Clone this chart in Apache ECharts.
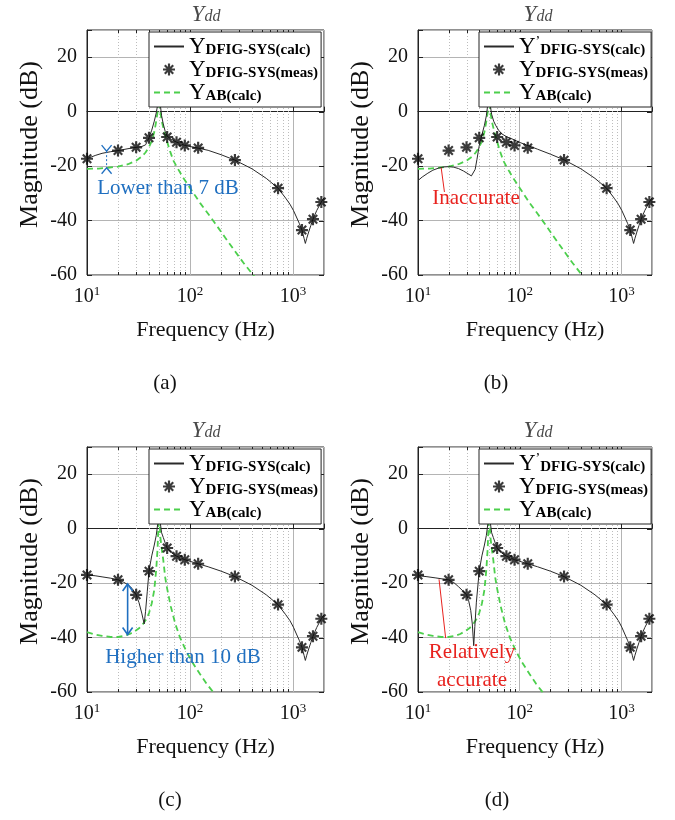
<!DOCTYPE html>
<html>
<head>
<meta charset="utf-8">
<script src="https://cdn.jsdelivr.net/npm/echarts@6/dist/echarts.min.js"></script>
<style>
  html, body { margin: 0; padding: 0; background: #fff; }
  #chart { width: 675px; height: 820px; }
</style>
</head>
<body>
<div id="chart"></div>
<script>
const SERIF = "'Liberation Serif', 'Times New Roman', serif";
const BLUE = '#1f6fc0';
const RED = '#e8231f';

// Measured admittance points: frequency (Hz) and magnitude (dB)
const measFreq = [10, 20, 30, 40, 60, 74, 89, 120, 273, 716, 1222, 1563, 1884];
const measTop = [-17.3, -14.3, -13.1, -9.6, -9.3, -11.2, -12.4, -13.3, -17.8, -28.1, -43.5, -39.5, -33.2];
const measBottom = [-17.0, -18.8, -24.3, -15.6, -7.1, -10.1, -11.4, -12.9, -17.6, -27.9, -43.6, -39.5, -33.1];

// Calculated DFIG-SYS admittance, [frequency, dB]
const calcA = [[10,-17.3],[12,-16.1],[14,-15.3],[17,-14.7],[20,-14.3],[25,-13.6],[30,-13.1],[34,-12.8],[37,-12.2],
  [40,-9.6],[42.5,-6.8],[45,-3.5],[47,-0.5],[48.5,2.5],[50,8],[51.5,2.5],[53,-1.5],[55,-4.5],[57.5,-7.3],[60,-9.0],
  [66,-10.2],[74,-11.2],[89,-12.4],[120,-13.4],[150,-14.2],[200,-15.8],[273,-17.8],[400,-21],[550,-24.5],[716,-28.1],
  [850,-31.8],[934,-34],[1010,-36.3],[1080,-38.7],[1150,-41],[1222,-43.5],[1280,-46.5],[1318,-48.4],[1360,-46.5],
  [1420,-44.2],[1490,-41.8],[1563,-39.5],[1700,-36.3],[1884,-33.2],[2000,-31.6]];
const calcB = [[10,-25.3],[11,-24],[12.5,-22.6],[14,-21.5],[16,-20.7],[18,-20.3],[20,-20.2],[22.5,-20.4],[25,-20.9],
  [28,-21.8],[31,-22.8],[33.5,-23.6],[35,-23.2],[36.5,-21.2],[38,-17.5],[40,-12.5],[42.5,-8.5],[45,-5],[47,-1.5],
  [48.5,2.5],[50,8],[51.5,2],[53,-1],[55.5,-3.5],[58,-5],[62,-6.8],[67,-8.2],[75,-9.3],[84,-10],[100,-11.3],[122,-12.5],
  [150,-13.8],[200,-15.6],[273,-17.7],[400,-21],[550,-24.5],[716,-28.1],[850,-31.8],[934,-34],[1010,-36.3],[1080,-38.7],
  [1150,-41],[1222,-43.5],[1280,-46.5],[1318,-48.4],[1360,-46.5],[1420,-44.2],[1490,-41.8],[1563,-39.5],[1700,-36.3],
  [1884,-33.2],[2000,-31.6]];
const calcC = [[10,-17],[12,-17.3],[14,-17.7],[17,-18.2],[20,-18.8],[22.5,-19.6],[25,-20.6],[27.5,-22],[30,-24.3],
  [32,-27.2],[34,-31],[35.9,-35],[37,-30.5],[38.5,-23],[40,-15.6],[42.5,-10],[45,-6],[47,-2.5],[48.5,1.5],[50,8],
  [51.5,2],[53,-1.5],[55,-3.2],[57.5,-5.3],[60,-7.1],[66,-8.8],[74,-10.1],[89,-11.4],[120,-12.9],[150,-14],[200,-15.6],
  [273,-17.6],[400,-20.8],[550,-24.3],[716,-27.9],[850,-31.6],[934,-33.8],[1010,-36.2],[1080,-38.7],[1150,-41],
  [1222,-43.6],[1280,-46.5],[1318,-48.4],[1360,-46.5],[1420,-44.2],[1490,-41.8],[1563,-39.5],[1700,-36.3],[1884,-33.1],
  [2000,-31.6]];
const calcD = [[10,-17.3],[12,-17.6],[15,-18.1],[20,-18.8],[22.5,-19.8],[25,-21.3],[27.5,-22.8],[30,-24.3],[31.5,-26.5],
  [33,-30],[34.2,-35],[35.3,-43],[36.2,-36],[37.5,-27],[39,-20],[40,-15.6],[42.5,-10],[45,-6],[47,-2.5],[48.5,1.5],
  [50,8],[51.5,2],[53,-1.5],[55,-3.2],[57.5,-5.3],[60,-7.1],[66,-8.8],[74,-10.1],[89,-11.4],[120,-12.9],[150,-14],
  [200,-15.6],[273,-17.6],[400,-20.8],[550,-24.3],[716,-27.9],[850,-31.6],[934,-33.8],[1010,-36.2],[1080,-38.7],
  [1150,-41],[1222,-43.6],[1280,-46.5],[1318,-48.4],[1360,-46.5],[1420,-44.2],[1490,-41.8],[1563,-39.5],[1700,-36.3],
  [1884,-33.1],[2000,-31.6]];

// Calculated AB admittance, [frequency, dB]
const abTop = [[10,-21],[13,-20.9],[16,-20.6],[20,-20.2],[25,-19.3],[30,-18],[34,-16.5],[37,-15],[40,-13],[42.5,-10.8],
  [45,-7.5],[47,-3.5],[48.5,0],[50,8],[51.5,0],[53,-3.3],[56,-7],[59.5,-10.6],[64,-14.5],[69,-18],[75,-20.5],[85,-24],
  [100,-28],[125,-33.5],[150,-37.5],[175,-41],[220,-46.3],[270,-51],[330,-55.5],[410,-60],[450,-62]];
const abBottom = [[10,-38],[12,-38.9],[14,-39.4],[17,-39.8],[20,-39.8],[23,-39.4],[26,-38.7],[29,-37.7],[32,-36.6],
  [35,-35],[38,-33],[40,-31],[42.5,-27.5],[45,-22.5],[47,-15],[48.5,-7],[50,8],[51.5,-3],[53,-7],[55,-11.5],
  [57.5,-18],[60,-22],[65,-28.5],[72,-35],[80,-40],[92,-45],[105,-49],[125,-53.4],[145,-57],[170,-60.3],[185,-62]];

// Axis ticks
const xTickFreqs = [10, 100, 1000];
const yTickValues = [-60, -40, -20, 0, 20];
const minorFreqs = [20, 30, 40, 50, 60, 70, 80, 90, 200, 300, 400, 500, 600, 700, 800, 900];

// Annotations: [frequency, upper dB, lower dB] and leader lines
const gapA = [15.5, -14.5, -20.6];
const gapC = [24.8, -20.3, -38.9];
const leaderB = [[16.9, -20.6], [18.2, -29.5]];
const leaderD = [[16.1, -18.6], [18.7, -40.2]];

const panels = [
  { key: 'a', grid: { left: 87, top: 30, width: 237, height: 245 }, legend: { left: 149, top: 32 },
    calc: calcA, meas: measTop, ab: abTop, prime: false, title: [206, 14], caption: [165, 383] },
  { key: 'b', grid: { left: 418, top: 30, width: 234, height: 245 }, legend: { left: 479, top: 32 },
    calc: calcB, meas: measTop, ab: abTop, prime: true, title: [538, 14], caption: [496, 383] },
  { key: 'c', grid: { left: 87, top: 447, width: 237, height: 245 }, legend: { left: 149, top: 449 },
    calc: calcC, meas: measBottom, ab: abBottom, prime: false, title: [206, 430], caption: [170, 800] },
  { key: 'd', grid: { left: 418, top: 447, width: 234, height: 245 }, legend: { left: 479, top: 449 },
    calc: calcD, meas: measBottom, ab: abBottom, prime: true, title: [538, 430], caption: [497, 800] }
];

// eight-spoke asterisk marker
const STAR = 'path://M-1.8,-10L1.8,-10L1.8,10L-1.8,10Z' +
  'M-10,-1.8L10,-1.8L10,1.8L-10,1.8Z' +
  'M5.8,8.3L-8.3,-5.8L-5.8,-8.3L8.3,5.8Z' +
  'M8.3,-5.8L-5.8,8.3L-8.3,5.8L5.8,-8.3Z';

const TICK = '#222';

// dotted minor gridlines with short ticks on the bottom and top frame
function minorGrid(params, api) {
  const cs = params.coordSys;
  const x = Math.round(api.coord([api.value(0), 0])[0]) + 0.5;
  const bottom = cs.y + cs.height;
  return {
    type: 'group',
    children: [
      { type: 'line', shape: { x1: x, y1: cs.y, x2: x, y2: bottom },
        style: { stroke: '#bdbdbd', lineWidth: 1, lineDash: [1, 2] } },
      { type: 'line', shape: { x1: x, y1: bottom, x2: x, y2: bottom - 3 }, style: { stroke: TICK, lineWidth: 1 } },
      { type: 'line', shape: { x1: x, y1: cs.y, x2: x, y2: cs.y + 3 }, style: { stroke: TICK, lineWidth: 1 } }
    ]
  };
}

// major ticks mirrored on the top and right frame
function mirrorTicks(params, api) {
  const cs = params.coordSys;
  const children = [];
  const f = api.value(0), v = api.value(1);
  if (f > 0) {
    const x = Math.round(api.coord([f, 0])[0]) + 0.5;
    children.push({ type: 'line', shape: { x1: x, y1: cs.y, x2: x, y2: cs.y + 5 }, style: { stroke: TICK, lineWidth: 1 } });
  }
  if (!isNaN(v)) {
    const y = Math.round(api.coord([10, v])[1]) + 0.5;
    const r = cs.x + cs.width;
    children.push({ type: 'line', shape: { x1: r, y1: y, x2: r - 5, y2: y }, style: { stroke: TICK, lineWidth: 1 } });
  }
  return { type: 'group', children };
}

// gap marker with arrow heads opening outward from the two levels
function gapMarkerIn(params, api) {
  const p1 = api.coord([api.value(0), api.value(1)]);
  const p2 = api.coord([api.value(0), api.value(2)]);
  const x = p1[0];
  return {
    type: 'group',
    children: [
      { type: 'line', shape: { x1: x, y1: p1[1], x2: x, y2: p2[1] }, style: { stroke: BLUE, lineWidth: 1, lineDash: [2, 2] } },
      { type: 'polyline', shape: { points: [[x - 5, p1[1] - 6], [x, p1[1]], [x + 5, p1[1] - 6]] },
        style: { stroke: BLUE, lineWidth: 1.3, fill: null } },
      { type: 'polyline', shape: { points: [[x - 5, p2[1] + 6], [x, p2[1]], [x + 5, p2[1] + 6]] },
        style: { stroke: BLUE, lineWidth: 1.3, fill: null } }
    ]
  };
}

// double-headed arrow between two levels
function gapMarkerOut(params, api) {
  const p1 = api.coord([api.value(0), api.value(1)]);
  const p2 = api.coord([api.value(0), api.value(2)]);
  const x = p1[0];
  return {
    type: 'group',
    children: [
      { type: 'line', shape: { x1: x, y1: p1[1], x2: x, y2: p2[1] }, style: { stroke: BLUE, lineWidth: 1.6 } },
      { type: 'polyline', shape: { points: [[x - 5, p1[1] + 7], [x, p1[1]], [x + 5, p1[1] + 7]] },
        style: { stroke: BLUE, lineWidth: 1.6, fill: null } },
      { type: 'polyline', shape: { points: [[x - 5, p2[1] - 7], [x, p2[1]], [x + 5, p2[1] - 7]] },
        style: { stroke: BLUE, lineWidth: 1.6, fill: null } }
    ]
  };
}

const legendLabels = {
  calc: '{y|Y}{s|DFIG-SYS(calc)}',
  calcPrime: '{y|Y}{p|’}{s|DFIG-SYS(calc)}',
  meas: '{y|Y}{s|DFIG-SYS(meas)}',
  ab: '{y|Y}{s|AB(calc)}'
};
// legend entries for lines show only the line stroke
const hiddenSymbol = { color: 'rgba(0,0,0,0)', borderColor: 'rgba(0,0,0,0)', borderWidth: 0 };

const grids = [], xAxes = [], yAxes = [], legends = [], series = [], graphics = [];

panels.forEach((p, i) => {
  grids.push(Object.assign({ show: true, borderColor: '#222', borderWidth: 1, backgroundColor: '#fff', containLabel: false }, p.grid));

  xAxes.push({
    type: 'log', logBase: 10, min: 10, max: 2000, gridIndex: i,
    name: 'Frequency (Hz)', nameLocation: 'middle', nameGap: 44,
    nameTextStyle: { fontFamily: SERIF, fontSize: 22, color: '#111' },
    axisLine: { show: true, lineStyle: { color: '#222', width: 1 } },
    axisTick: { show: true, inside: true, length: 5, lineStyle: { color: TICK } },
    splitLine: { show: true, lineStyle: { color: '#b4b4b4', width: 1 } },
    axisLabel: {
      margin: 10,
      formatter: v => {
        const r = Math.round(v);
        return xTickFreqs.includes(r) ? '{b|10}{e|' + Math.round(Math.log10(r)) + '}' : '';
      },
      rich: {
        b: { fontFamily: SERIF, fontSize: 20, color: '#111', lineHeight: 22, verticalAlign: 'bottom' },
        e: { fontFamily: SERIF, fontSize: 13, color: '#111', lineHeight: 13, verticalAlign: 'top' }
      }
    }
  });

  yAxes.push({
    type: 'value', min: -60, max: 30, interval: 20, gridIndex: i,
    name: 'Magnitude (dB)', nameLocation: 'middle', nameGap: 44, nameRotate: 90,
    nameTextStyle: { fontFamily: SERIF, fontSize: 26, color: '#111', padding: [0, 0, 0, 16] },
    axisLine: { show: true, lineStyle: { color: '#222', width: 1 } },
    axisTick: { show: true, inside: true, length: 5, lineStyle: { color: TICK } },
    splitLine: { show: true, lineStyle: { color: '#b4b4b4', width: 1 } },
    axisLabel: {
      margin: 10, fontFamily: SERIF, fontSize: 20, color: '#111',
      formatter: v => (yTickValues.includes(v) ? String(v) : '')
    }
  });

  const nCalc = 'calc_' + p.key, nMeas = 'meas_' + p.key, nAb = 'ab_' + p.key;

  legends.push({
    data: [{ name: nCalc, itemStyle: hiddenSymbol }, nMeas, { name: nAb, itemStyle: hiddenSymbol }],
    orient: 'vertical', left: p.legend.left, top: p.legend.top, z: 20,
    backgroundColor: '#fff', borderColor: '#222', borderWidth: 1,
    padding: [3, 3, 3, 4], itemGap: 0, itemWidth: 30, itemHeight: 12,
    selectedMode: false,
    formatter: name => {
      const kind = name.split('_')[0];
      if (kind === 'calc') return p.prime ? legendLabels.calcPrime : legendLabels.calc;
      return legendLabels[kind];
    },
    textStyle: {
      fontFamily: SERIF, color: '#000',
      rich: {
        y: { fontFamily: SERIF, fontSize: 23, lineHeight: 23, verticalAlign: 'top', color: '#000' },
        p: { fontFamily: SERIF, fontSize: 14, lineHeight: 14, verticalAlign: 'top', color: '#000' },
        s: { fontFamily: SERIF, fontSize: 15, fontWeight: 'bold', lineHeight: 14, verticalAlign: 'bottom', color: '#000' }
      }
    }
  });

  series.push({
    type: 'custom', xAxisIndex: i, yAxisIndex: i, silent: true, z: 1,
    data: minorFreqs.map(f => [f, 0]), renderItem: minorGrid, encode: { x: 0, y: 1 }
  });
  series.push({
    type: 'custom', xAxisIndex: i, yAxisIndex: i, silent: true, z: 1, clip: false,
    data: yTickValues.map((v, k) => [xTickFreqs[k] !== undefined ? xTickFreqs[k] : 0, v]),
    renderItem: mirrorTicks, encode: { x: 0, y: 1 }
  });
  series.push({
    type: 'line', name: nAb, xAxisIndex: i, yAxisIndex: i, data: p.ab,
    symbol: 'none', clip: true, z: 2,
    lineStyle: { color: '#4ccf4c', width: 1.8, type: [6, 4] }, itemStyle: { color: '#4ccf4c' }
  });
  series.push({
    type: 'line', name: nCalc, xAxisIndex: i, yAxisIndex: i, data: p.calc,
    symbol: 'none', clip: true, z: 3,
    lineStyle: { color: '#2a2a2a', width: 1 }, itemStyle: { color: '#2a2a2a' }
  });
  series.push({
    type: 'scatter', name: nMeas, xAxisIndex: i, yAxisIndex: i,
    data: p.meas.map((v, k) => [measFreq[k], v]),
    symbol: STAR, symbolSize: 12, symbolKeepAspect: true, z: 4,
    itemStyle: { color: '#0a0a0a' }
  });

  // panel title Y_dd and caption
  graphics.push({
    type: 'text', x: p.title[0], y: p.title[1], z: 10,
    style: {
      text: '{y|Y}{d|dd}', align: 'center', verticalAlign: 'middle',
      rich: {
        y: { fontFamily: SERIF, fontSize: 23, fontStyle: 'italic', lineHeight: 22, verticalAlign: 'top', fill: '#4a4a4a' },
        d: { fontFamily: SERIF, fontSize: 16, fontStyle: 'italic', lineHeight: 14, verticalAlign: 'bottom', fill: '#4a4a4a' }
      }
    }
  });
  graphics.push({
    type: 'text', x: p.caption[0], y: p.caption[1], z: 10,
    style: { text: '(' + p.key + ')', fontFamily: SERIF, fontSize: 21, fill: '#111', align: 'center', verticalAlign: 'middle' }
  });
});

// annotation marks drawn on the data scales
series.push({
  type: 'custom', xAxisIndex: 0, yAxisIndex: 0, z: 5, silent: true, clip: false,
  data: [gapA], renderItem: gapMarkerIn, encode: { x: 0, y: [1, 2] }
});
series.push({
  type: 'custom', xAxisIndex: 2, yAxisIndex: 2, z: 5, silent: true, clip: false,
  data: [gapC], renderItem: gapMarkerOut, encode: { x: 0, y: [1, 2] }
});
series.push({
  type: 'line', xAxisIndex: 1, yAxisIndex: 1, data: leaderB, symbol: 'none', z: 5, silent: true,
  lineStyle: { color: RED, width: 1 }
});
series.push({
  type: 'line', xAxisIndex: 3, yAxisIndex: 3, data: leaderD, symbol: 'none', z: 5, silent: true,
  lineStyle: { color: RED, width: 1 }
});

// annotation text
const noteStyle = (text, color) => ({ text, fontFamily: SERIF, fontSize: 21, fill: color, align: 'center', verticalAlign: 'middle' });
graphics.push({ type: 'text', x: 168, y: 188, z: 10, style: noteStyle('Lower than 7 dB', BLUE) });
graphics.push({ type: 'text', x: 476, y: 198, z: 10, style: noteStyle('Inaccurate', RED) });
graphics.push({ type: 'text', x: 183, y: 657, z: 10, style: noteStyle('Higher than 10 dB', BLUE) });
graphics.push({ type: 'text', x: 472, y: 652, z: 10, style: noteStyle('Relatively', RED) });
graphics.push({ type: 'text', x: 472, y: 680, z: 10, style: noteStyle('accurate', RED) });

const chart = echarts.init(document.getElementById('chart'), null, { renderer: 'canvas' });
chart.setOption({
  animation: false,
  backgroundColor: '#fff',
  grid: grids,
  xAxis: xAxes,
  yAxis: yAxes,
  legend: legends,
  series: series,
  graphic: graphics
});
</script>
</body>
</html>
